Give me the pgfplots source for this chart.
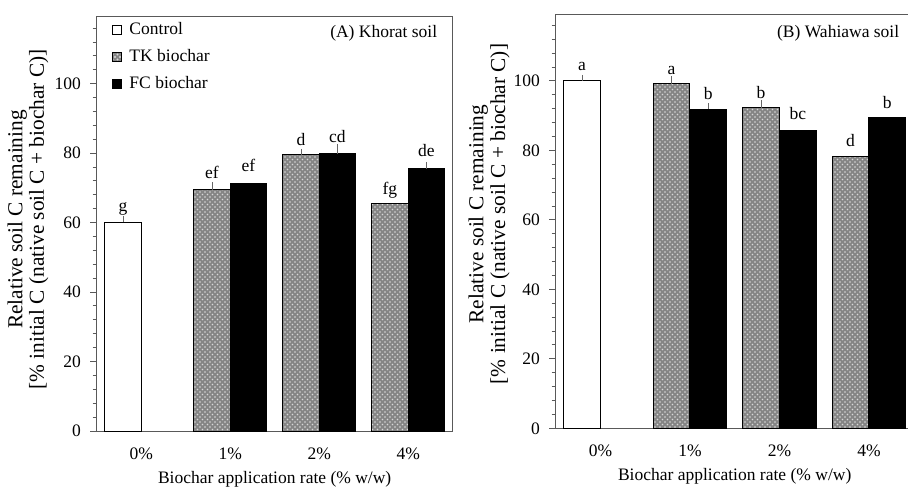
\documentclass[border=0pt]{standalone}
\usepackage{fontspec}
\setmainfont{Liberation Serif}
\usepackage{pgfplots}
\usepackage{pgfplotstable}
\pgfplotsset{compat=1.18}
\usetikzlibrary{patterns}

% x = bar centre, y = mean, e = error (+), ly = letter baseline, lab = letter
\pgfplotstableread{
x      y     e    ly    lab
-0.205 60.1  1.0  63.1  g
}\Actrl
\pgfplotstableread{
x      y     e    ly    lab
0.795  69.5  1.2  72.6  ef
1.795  79.5  0.9  82.3  d
2.795  65.4  0.0  68.2  fg
}\Atk
\pgfplotstableread{
x      y     e    ly    lab
1.205  71.3  0.0  74.6  ef
2.205  79.8  2.0  83.0  cd
3.205  75.5  1.1  79.0  de
}\Afc
\pgfplotstableread{
x      y     e    ly    lab
-0.205 100.1 0.8  102.9 a
}\Bctrl
\pgfplotstableread{
x      y     e    ly    lab
0.795  99.2  1.4  101.9 a
1.795  92.3  1.4  95.1  b
2.795  78.3  0.0  81.0  d
}\Btk
\pgfplotstableread{
x      y     e    ly    lab
1.205  91.9  0.9  94.7  b
2.205  85.8  0.0  88.9  bc
3.205  89.4  0.0  92.1  b
}\Bfc

\pgfplotsset{
  soil/.style={
    scale only axis,
    xmin=-0.5, xmax=3.5, ymin=0,
    xtick={0,1,2,3}, xticklabels={0\%,1\%,2\%,4\%},
    xtick style={draw=none},
    ytick={0,20,...,100},
    minor ytick={4,8,...,116},
    ytick pos=left, tick align=outside,
    major tick length=4pt, minor tick length=2.5pt,
    axis line style={black!65, line width=0.6pt},
    every tick/.style={black!65, line width=0.6pt},
    font=\fontsize{10.5}{12.6}\selectfont,
    /pgf/number format/assume math mode=true,
    xticklabel style={anchor=base, yshift=-13pt},
    yticklabel style={xshift=-2pt},
    every axis x label/.style={at={(axis description cs:0.5,0)}, anchor=base, yshift=-31.5pt},
    xlabel={Biochar application rate (\% w/w)},
    ylabel={Relative soil C remaining\\{[}\% initial  C (native soil C + biochar C){]}},
    clip=false,
  },
  ylab/.style 2 args={every axis y label/.style={at={(axis description cs:#1,#2)}, rotate=90,
    anchor=center, align=center, font=\fontsize{12.8}{13}\selectfont}},
  barctrl/.style={ybar, bar width=0.41, bar shift=0pt, fill=white, draw=black, line width=0.6pt,
    legend image code/.code={\draw[fill=white, draw=black, line width=0.6pt] (0pt,-2.6pt) rectangle (5.2pt,2.6pt);}},
  bartk/.style={ybar, bar width=0.41, bar shift=0pt, fill=black!48, draw=black, line width=0.6pt,
    postaction={pattern=crosshatch dots, pattern color=white!85!black},
    legend image code/.code={\draw[fill=black!48, draw=black, line width=0.6pt, postaction={pattern=crosshatch dots, pattern color=white!85!black}] (0pt,-2.6pt) rectangle (5.2pt,2.6pt);}},
  barfc/.style={ybar, bar width=0.41, bar shift=0pt, fill=black, draw=black, line width=0.6pt,
    legend image code/.code={\draw[fill=black, draw=black] (0pt,-2.6pt) rectangle (5.2pt,2.6pt);}},
  errs/.style={draw=none, mark=none, forget plot, unbounded coords=discard,
    x filter/.expression={\thisrow{e}>0 ? x : nan},
    error bars/.cd, y dir=plus, y explicit,
    error bar style={draw=black!60, solid, line width=0.5pt},
    error mark options={draw=black!60, line width=0.5pt, mark size=1.8pt}},
  letters/.style={only marks, mark=none, forget plot, nodes near coords,
    point meta=explicit symbolic,
    every node near coord/.append style={anchor=base, inner sep=0pt, black}},
}

\begin{document}
\begin{tikzpicture}
% (A) Khorat soil
\begin{axis}[soil,
    at={(58pt,33.6pt)}, anchor=south west,
    width=213.6pt, height=248.6pt, ymax=119.3,
    ylab={-0.193}{0.5105},
    legend style={at={(axis description cs:0.043,0.995)}, anchor=north west, draw=none, fill=none,
      font=\fontsize{10.5}{12.6}\selectfont, row sep=3.4pt, column sep=2.5pt,
      legend cell align=left, inner sep=0pt},
    legend entries={Control,TK biochar,FC biochar},
]
\addplot[barctrl] table[x=x, y=y] {\Actrl};
\addplot[bartk] table[x=x, y=y] {\Atk};
\addplot[barfc] table[x=x, y=y] {\Afc};
\addplot[errs] table[x=x, y=y, y error=e] {\Actrl};
\addplot[errs] table[x=x, y=y, y error=e] {\Atk};
\addplot[errs] table[x=x, y=y, y error=e] {\Afc};
\addplot[letters] table[x=x, y=ly, meta=lab] {\Actrl};
\addplot[letters] table[x=x, y=ly, meta=lab] {\Atk};
\addplot[letters] table[x=x, y=ly, meta=lab] {\Afc};
\node[anchor=east] at (axis description cs:0.973,0.96) {(A) Khorat soil};
\end{axis}
% (B) Wahiawa soil
\begin{axis}[soil,
    at={(333.4pt,35.2pt)}, anchor=south west,
    width=214.8pt, height=248pt, ymax=119,
    ylab={-0.186}{0.5185},
]
\addplot[barctrl] table[x=x, y=y] {\Bctrl};
\addplot[bartk] table[x=x, y=y] {\Btk};
\addplot[barfc] table[x=x, y=y] {\Bfc};
\addplot[errs] table[x=x, y=y, y error=e] {\Bctrl};
\addplot[errs] table[x=x, y=y, y error=e] {\Btk};
\addplot[errs] table[x=x, y=y, y error=e] {\Bfc};
\addplot[letters] table[x=x, y=ly, meta=lab] {\Bctrl};
\addplot[letters] table[x=x, y=ly, meta=lab] {\Btk};
\addplot[letters] table[x=x, y=ly, meta=lab] {\Bfc};
\node[anchor=east] at (axis description cs:0.976,0.956) {(B) Wahiawa soil};
\end{axis}
\pgfresetboundingbox
\useasboundingbox (0pt,0pt) rectangle (544.8pt,292.2pt);
\end{tikzpicture}
\end{document}
